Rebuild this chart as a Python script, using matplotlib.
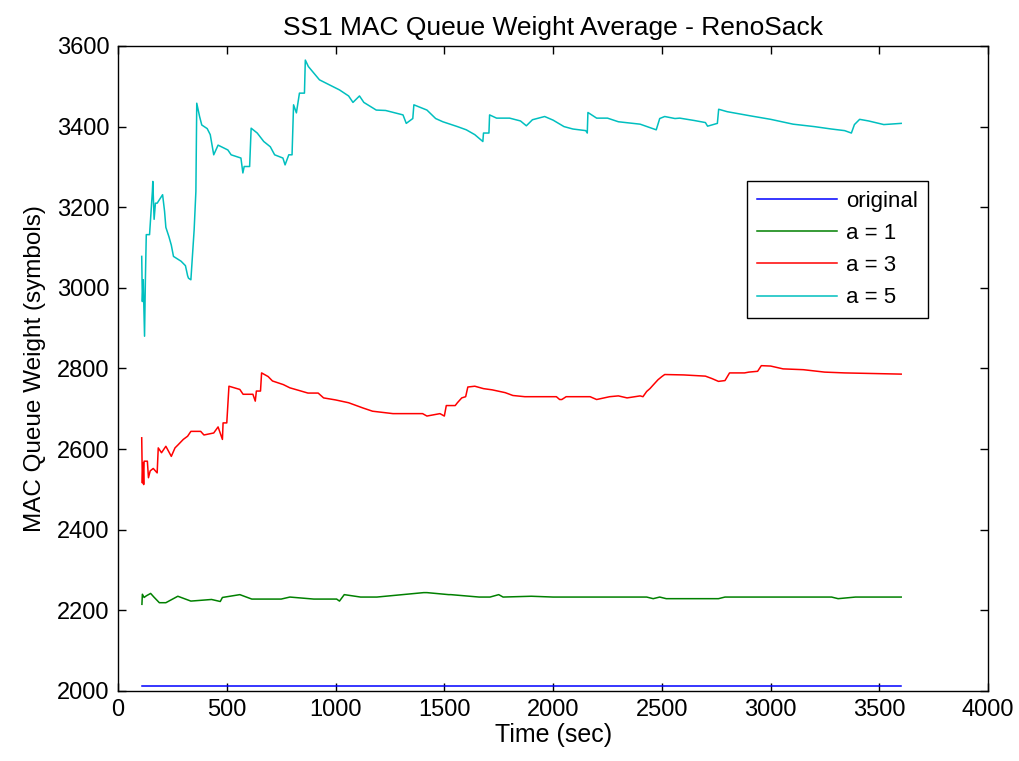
import numpy as np
import matplotlib
matplotlib.use("Agg")
import matplotlib.pyplot as plt

plt.rcParams['font.family'] = ['Liberation Sans', 'DejaVu Sans']

# series (time in sec, weight in symbols)
orig_t = [110, 3600]
orig_w = [2013, 2013]

a1_t = [110, 112, 120, 130, 150, 165, 190, 220, 275, 335, 430, 470, 480, 560,
        615, 750, 790, 900, 1005, 1018, 1040, 1115, 1190, 1405, 1420, 1520,
        1530, 1660, 1710, 1750, 1770, 1900, 2000, 2430, 2460, 2490, 2520, 2760,
        2790, 3280, 3310, 3390, 3600]
a1_w = [2215, 2240, 2232, 2236, 2242, 2233, 2219, 2219, 2235, 2223, 2227,
        2222, 2232, 2239, 2228, 2228, 2233, 2228, 2228, 2223, 2239, 2233, 2233,
        2244, 2244, 2239, 2239, 2233, 2233, 2239, 2233, 2235, 2233, 2233, 2229,
        2233, 2229, 2229, 2233, 2233, 2229, 2233, 2233]

a3_t = [109, 112, 115, 118, 120, 135, 140, 148, 162, 180, 185, 200, 220, 245,
        262, 275, 300, 320, 335, 380, 395, 440, 460, 480, 483, 500, 510, 560,
        575, 620, 631, 636, 655, 660, 690, 710, 760, 790, 835, 873, 920, 945,
        1000, 1060, 1126, 1170, 1264, 1340, 1400, 1420, 1480, 1500, 1509, 1550,
        1560, 1580, 1598, 1608, 1640, 1680, 1720, 1780, 1815, 1870, 2015, 2030,
        2040, 2060, 2170, 2200, 2260, 2300, 2340, 2400, 2413, 2430, 2445, 2460,
        2482, 2500, 2513, 2600, 2700, 2730, 2760, 2790, 2811, 2880, 2900, 2940,
        2957, 3000, 3057, 3150, 3248, 3340, 3600]
a3_w = [2628, 2516, 2566, 2512, 2570, 2570, 2529, 2546, 2552, 2541, 2603,
        2591, 2607, 2582, 2603, 2610, 2624, 2632, 2644, 2644, 2635, 2640, 2655,
        2624, 2665, 2665, 2756, 2748, 2736, 2736, 2719, 2744, 2744, 2789, 2780,
        2769, 2760, 2752, 2745, 2739, 2739, 2727, 2722, 2715, 2702, 2694, 2688,
        2688, 2688, 2682, 2688, 2682, 2708, 2708, 2715, 2727, 2730, 2754, 2756,
        2750, 2747, 2740, 2733, 2730, 2730, 2723, 2723, 2730, 2730, 2723, 2730,
        2732, 2727, 2732, 2730, 2743, 2750, 2759, 2772, 2780, 2785, 2784, 2781,
        2775, 2768, 2770, 2789, 2789, 2791, 2793, 2807, 2806, 2799, 2797, 2791,
        2789, 2786]

a5_t = [109, 112, 116, 122, 126, 130, 145, 158, 160, 166, 172, 180, 205, 214,
        220, 234, 245, 255, 290, 310, 320, 324, 335, 350, 358, 362, 375, 385,
        410, 424, 440, 460, 505, 520, 565, 574, 580, 605, 612, 640, 670, 700,
        720, 758, 768, 785, 800, 807, 820, 834, 857, 861, 875, 926, 970, 1018,
        1060, 1080, 1110, 1130, 1187, 1230, 1310, 1325, 1355, 1360, 1420, 1460,
        1493, 1560, 1601, 1640, 1677, 1680, 1705, 1708, 1740, 1800, 1850, 1877,
        1905, 1961, 2000, 2050, 2091, 2150, 2157, 2160, 2200, 2250, 2300, 2400,
        2474, 2490, 2513, 2560, 2582, 2650, 2700, 2710, 2755, 2761, 2800, 2903,
        3000, 3103, 3200, 3279, 3340, 3371, 3385, 3409, 3450, 3520, 3600]
a5_w = [3078, 2966, 3020, 2880, 3024, 3132, 3132, 3239, 3264, 3170, 3210,
        3210, 3231, 3190, 3150, 3127, 3106, 3078, 3066, 3055, 3030, 3024, 3020,
        3144, 3239, 3458, 3425, 3404, 3395, 3380, 3330, 3354, 3342, 3330, 3322,
        3285, 3301, 3301, 3396, 3384, 3363, 3350, 3330, 3322, 3305, 3330, 3330,
        3454, 3434, 3483, 3483, 3565, 3549, 3516, 3504, 3491, 3476, 3460, 3476,
        3460, 3441, 3440, 3429, 3408, 3420, 3454, 3441, 3420, 3412, 3400, 3392,
        3380, 3363, 3384, 3384, 3429, 3421, 3421, 3414, 3402, 3417, 3425, 3416,
        3400, 3394, 3390, 3384, 3435, 3421, 3421, 3412, 3406, 3392, 3420, 3425,
        3420, 3421, 3415, 3410, 3401, 3408, 3443, 3437, 3427, 3418, 3406, 3400,
        3394, 3390, 3384, 3405, 3418, 3414, 3405, 3408]

labels = ['original', 'a = 1', 'a = 3', 'a = 5']
colors = ['#0000ff', '#008000', '#ff0000', '#00bfbf']

fig = plt.figure(figsize=(10.19, 7.61), dpi=100)
ax = fig.add_axes([0.1158, 0.092, 0.854, 0.8476])

series = [(orig_t, orig_w), (a1_t, a1_w), (a3_t, a3_w), (a5_t, a5_w)]
for (t, w), lab, c in zip(series, labels, colors):
    ax.plot(t, w, color=c, lw=1.1, label=lab)

ax.set_xlim(0, 4000)
ax.set_ylim(2000, 3600)
ax.set_xticks(np.arange(0, 4001, 500))
ax.set_yticks(np.arange(2000, 3601, 200))
ax.tick_params(direction='in', top=True, right=True, length=6, width=1,
               labelsize=17, pad=6)
for s in ax.spines.values():
    s.set_linewidth(1)

ax.set_xlabel('Time (sec)', fontsize=18, labelpad=1)
ax.set_ylabel('MAC Queue Weight (symbols)', fontsize=17.5, labelpad=8)
ax.set_title('SS1 MAC Queue Weight Average - RenoSack', fontsize=19, pad=8)

leg = ax.legend(loc='upper left', bbox_to_anchor=(0.7226, 0.7907),
                fontsize=16, handlelength=3.6, handletextpad=0.4,
                fancybox=False, framealpha=1, edgecolor='black',
                borderpad=0.45, labelspacing=0.5, borderaxespad=0)
leg.get_frame().set_linewidth(1)

fig.savefig('out.png', dpi=100)
